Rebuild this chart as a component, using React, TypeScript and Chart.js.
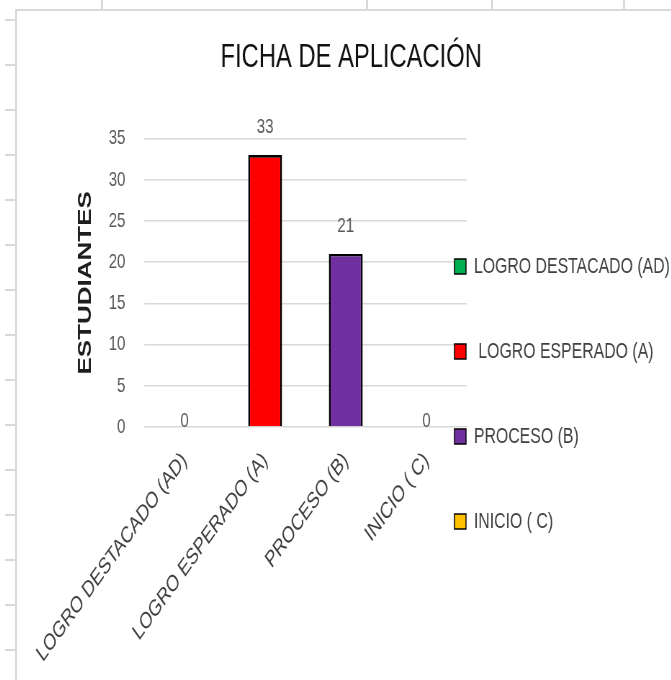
import React, { useEffect, useRef } from 'react';
import { Chart, registerables } from 'chart.js';

Chart.register(...registerables);

const chartTitle = 'FICHA DE APLICACIÓN';
const yAxisTitle = 'ESTUDIANTES';
const categories = ['LOGRO DESTACADO (AD)', 'LOGRO ESPERADO (A)', 'PROCESO (B)', 'INICIO ( C)'];
const legendNames = ['LOGRO DESTACADO (AD)', ' LOGRO ESPERADO (A)', 'PROCESO (B)', 'INICIO ( C)'];
const students = [0, 33, 21, 0];
const barColors = ['#00B050', '#FF0000', '#7030A0', '#FFC000'];
const yTicks = [0, 5, 10, 15, 20, 25, 30, 35];

const FONT = "'Liberation Sans', Arial, sans-serif";

const valueLabels = {
  id: 'valueLabels',
  afterDatasetsDraw(chart: any) {
    const { ctx } = chart;
    const meta = chart.getDatasetMeta(0);
    const data = chart.data.datasets[0].data as number[];
    ctx.save();
    ctx.font = `21px ${FONT}`;
    ctx.fillStyle = '#595959';
    ctx.textAlign = 'center';
    ctx.textBaseline = 'middle';
    meta.data.forEach((bar: any, i: number) => {
      const v = data[i];
      const off = v === 0 ? 6 : 28;
      ctx.fillText(String(v), bar.x, bar.y - off);
    });
    ctx.restore();
  },
};

const legendPlacer = {
  id: 'legendPlacer',
  afterLayout(chart: any) {
    const lg = chart.legend;
    if (!lg) return;
    const pad = lg.options.labels.padding;
    const dx = chart.chartArea.right - 17 - (lg.left + pad);
    const dy = 49;
    lg.left += dx;
    lg.right = chart.width;
    lg.top += dy;
    lg.bottom += dy;
  },
};

function ChartView() {
  const ref = useRef<HTMLCanvasElement | null>(null);
  useEffect(() => {
    if (!ref.current) return;
    const chart = new Chart(ref.current, {
      type: 'bar',
      data: {
        labels: categories,
        datasets: [
          {
            label: yAxisTitle,
            data: students,
            backgroundColor: barColors,
            borderColor: '#000000',
            borderWidth: 2.6,
            barPercentage: 0.42,
            categoryPercentage: 1,
          },
        ],
      },
      options: {
        animation: false,
        responsive: true,
        maintainAspectRatio: false,
        layout: { padding: { left: 0, right: 5, top: 0, bottom: 0 } },
        scales: {
          x: {
            grid: { display: false, drawTicks: false },
            border: { display: false },
            ticks: {
              autoSkip: false,
              maxRotation: 45,
              minRotation: 45,
              padding: 20,
              color: '#404040',
              font: { size: 23, family: FONT },
            },
            afterFit(s: any) {
              s.height = 253;
              s.paddingLeft = 0;
              s.paddingRight = 0;
            },
          },
          y: {
            min: yTicks[0],
            max: yTicks[yTicks.length - 1],
            ticks: {
              stepSize: yTicks[1] - yTicks[0],
              padding: 26,
              color: '#595959',
              font: { size: 21, family: FONT },
            },
            grid: { color: '#d9d9d9', lineWidth: 1.5, drawTicks: false },
            border: { display: false },
            title: {
              display: true,
              text: yAxisTitle,
              color: '#1e1e1e',
              font: { size: 26, weight: 'bold', family: FONT },
              padding: { top: 81, bottom: 0 },
            },
            afterFit(s: any) {
              s.width = 178;
            },
          },
        },
        plugins: {
          title: {
            display: true,
            text: chartTitle,
            color: '#111111',
            font: { size: 33, weight: 'normal', family: FONT },
            padding: { top: 28, bottom: 61 },
          },
          legend: {
            position: 'right',
            align: 'center',
            maxWidth: 305,
            labels: {
              boxWidth: 16,
              boxHeight: 15,
              padding: 63,
              color: '#404040',
              font: { size: 22, family: FONT },
              generateLabels: () =>
                legendNames.map((name, i) => ({
                  text: name,
                  fillStyle: barColors[i],
                  strokeStyle: '#000000',
                  lineWidth: 1.5,
                  hidden: false,
                  index: i,
                  datasetIndex: 0,
                  fontColor: '#404040',
                })),
            },
          },
          tooltip: { enabled: false },
        },
      } as any,
      plugins: [valueLabels, legendPlacer],
    });
    return () => chart.destroy();
  }, []);

  return (
    <div
      style={{
        position: 'absolute',
        left: 16,
        top: 10,
        width: 936,
        height: 670,
        transform: 'scaleX(0.72)',
        transformOrigin: '0 0',
      }}
    >
      <canvas ref={ref} style={{ display: 'block' }} />
    </div>
  );
}

export default function App() {
  const line = '#d9d9d9';
  return (
    <div
      style={{
        position: 'fixed',
        left: 0,
        top: 0,
        width: 671,
        height: 680,
        overflow: 'hidden',
        background: '#ffffff',
      }}
    >
      <div
        style={{
          position: 'absolute',
          left: 5,
          top: 0,
          width: 11,
          height: 680,
          background: `repeating-linear-gradient(to bottom, transparent 0px, transparent 19px, ${line} 19px, ${line} 21px, transparent 21px, transparent 45px)`,
        }}
      />
      {[101, 366, 491, 623].map((x) => (
        <div key={x} style={{ position: 'absolute', left: x, top: 0, width: 2, height: 10, background: line }} />
      ))}
      <div
        style={{
          position: 'absolute',
          left: 15,
          top: 9,
          width: 700,
          height: 700,
          borderLeft: `2px solid ${line}`,
          borderTop: `2px solid ${line}`,
        }}
      />
      <ChartView />
    </div>
  );
}
